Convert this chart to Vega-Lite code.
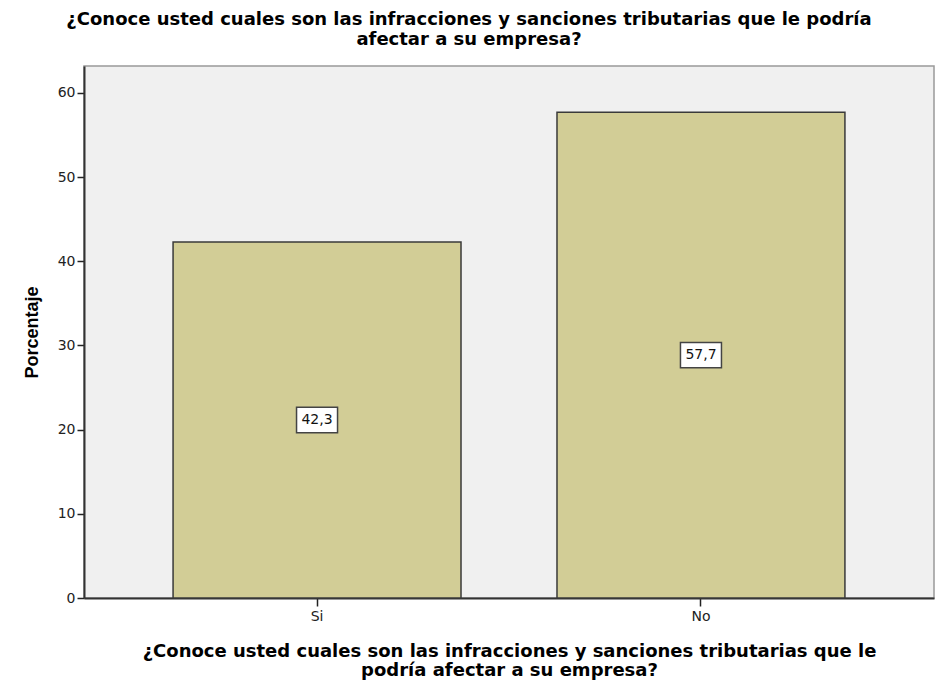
{
  "$schema": "https://vega.github.io/schema/vega-lite/v6.json",
  "width": 850,
  "height": 532,
  "autosize": {"type": "none"},
  "padding": {"left": 84, "top": 66, "right": 2, "bottom": 84},
  "background": "white",
  "title": {
    "text": ["¿Conoce usted cuales son las infracciones y sanciones tributarias que le podría", "afectar a su empresa?"],
    "anchor": "middle",
    "dx": -40,
    "offset": 17,
    "font": "DejaVu Sans",
    "fontSize": 18,
    "fontWeight": "bold",
    "lineHeight": 20,
    "color": "black"
  },
  "data": {
    "values": [
      {"respuesta": "Si", "porcentaje": 42.3},
      {"respuesta": "No", "porcentaje": 57.7}
    ]
  },
  "encoding": {
    "x": {
      "field": "respuesta",
      "type": "nominal",
      "sort": ["Si", "No"],
      "scale": {"paddingInner": 0.25, "paddingOuter": 0.232},
      "axis": {
        "title": ["¿Conoce usted cuales son las infracciones y sanciones tributarias que le", "podría afectar a su empresa?"],
        "titleFont": "DejaVu Sans",
        "titleFontSize": 18,
        "titleFontWeight": "bold",
        "titleLineHeight": 19,
        "titleColor": "black",
        "titlePadding": 19,
        "labelAngle": 0,
        "labelFont": "DejaVu Sans",
        "labelFontSize": 14,
        "labelColor": "#222",
        "labelPadding": 3,
        "tickSize": 8,
        "tickColor": "#222",
        "tickWidth": 1.5,
        "domainColor": "#333",
        "domainWidth": 2
      }
    }
  },
  "layer": [
    {
      "mark": {"type": "bar", "fill": "#D2CD96", "stroke": "#3a3a3a", "strokeWidth": 1.5},
      "encoding": {
        "y": {
          "field": "porcentaje",
          "type": "quantitative",
          "scale": {"domain": [0, 63.2], "nice": false},
          "axis": {
            "title": "Porcentaje",
            "titleFont": "Liberation Sans",
            "titleFontSize": 18,
            "titleFontWeight": "bold",
            "titleColor": "black",
            "titlePadding": 16,
            "values": [0, 10, 20, 30, 40, 50, 60],
            "grid": false,
            "labelFont": "DejaVu Sans",
            "labelFontSize": 14,
            "labelColor": "#222",
            "labelPadding": 2,
            "tickSize": 7,
            "tickColor": "#222",
            "tickWidth": 1.5,
            "domainColor": "#333",
            "domainWidth": 2
          }
        }
      }
    },
    {
      "transform": [{"calculate": "datum.porcentaje / 2", "as": "mitad"}],
      "mark": {"type": "point", "shape": "M-1,-0.62L1,-0.62L1,0.62L-1,0.62Z", "size": 1681, "filled": true, "fill": "white", "stroke": "#444", "strokeWidth": 1.5, "opacity": 1},
      "encoding": {
        "y": {"field": "mitad", "type": "quantitative"}
      }
    },
    {
      "transform": [{"calculate": "datum.porcentaje / 2", "as": "mitad"}],
      "mark": {"type": "text", "font": "DejaVu Sans", "fontSize": 14, "color": "#111", "baseline": "middle", "align": "center"},
      "encoding": {
        "y": {"field": "mitad", "type": "quantitative"},
        "text": {"field": "porcentaje", "type": "quantitative", "format": ".1f"}
      }
    }
  ],
  "config": {
    "locale": {"number": {"decimal": ",", "thousands": ".", "grouping": [3], "currency": ["", " €"]}},
    "view": {"fill": "#F0F0F0", "stroke": "#999", "strokeWidth": 1.5}
  }
}
